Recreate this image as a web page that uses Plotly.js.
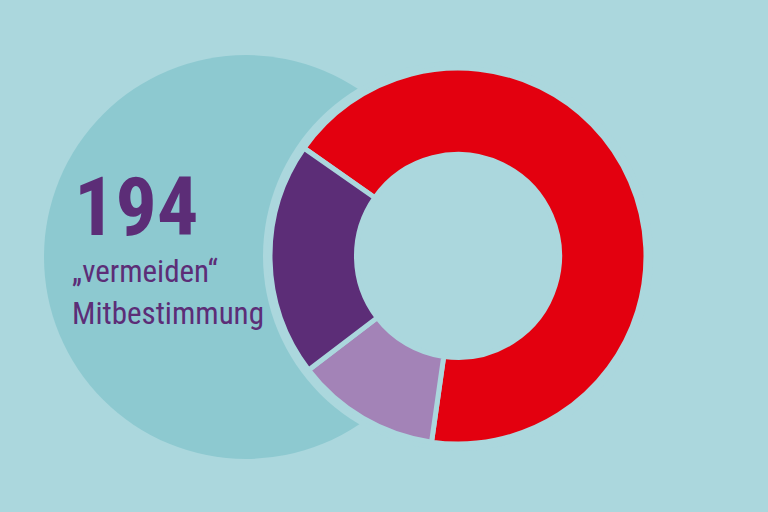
<!DOCTYPE html>
<html>
<head>
<meta charset="utf-8">
<script src="https://cdn.plot.ly/plotly-3.0.1.min.js"></script>
<style>html,body{margin:0;padding:0;background:#abd7dd;}#chart{width:768px;height:512px;}</style>
</head>
<body>
<div id="chart"></div>
<script>
const categories = ["Rot", "Hellviolett", "Violett"];
const values = [131, 24, 39];
const totalLabel = "194";
const captionLines = ["„vermeiden“", "Mitbestimmung"];

const BG = "#abd7dd";
const data = [{
  type: "pie",
  labels: categories,
  values: values,
  hole: 0.54,
  sort: false,
  direction: "clockwise",
  rotation: -55,
  textinfo: "none",
  hoverinfo: "none",
  marker: {colors: ["#e3000f", "#a383b7", "#5c2d77"], line: {color: BG, width: 5}},
  domain: {x: [270/768, 646/768], y: [68/512, 444/512]},
  showlegend: false
}];

const FONT = "Roboto Condensed, DejaVu Sans Condensed, sans-serif";
const layout = {
  width: 768, height: 512,
  margin: {l: 0, r: 0, t: 0, b: 0},
  paper_bgcolor: BG, plot_bgcolor: BG,
  showlegend: false,
  xaxis: {visible: false, range: [0, 768], fixedrange: true},
  yaxis: {visible: false, range: [0, 512], fixedrange: true},
  shapes: [
    {type: "circle", xref: "paper", yref: "paper", layer: "below",
     x0: 44/768, x1: 448/768, y0: (512-459)/512, y1: (512-55)/512,
     fillcolor: "#8dc9d0", line: {width: 0}},
    {type: "circle", xref: "paper", yref: "paper", layer: "below",
     x0: (458-195)/768, x1: (458+195)/768, y0: (256-195)/512, y1: (256+195)/512,
     fillcolor: BG, line: {width: 0}}
  ],
  annotations: [
    {text: "<b>" + totalLabel + "</b>", xref: "paper", yref: "paper", x: 72/768, y: (512-207)/512,
     xanchor: "left", yanchor: "middle", showarrow: false,
     font: {family: FONT, size: 82, color: "#5c2d77"}},
    {text: captionLines[0], xref: "paper", yref: "paper", x: 70/768, y: (512-271)/512,
     xanchor: "left", yanchor: "middle", showarrow: false,
     font: {family: FONT, size: 31, color: "#5c2d77"}},
    {text: captionLines[1], xref: "paper", yref: "paper", x: 70/768, y: (512-313)/512,
     xanchor: "left", yanchor: "middle", showarrow: false,
     font: {family: FONT, size: 31, color: "#5c2d77"}}
  ]
};

Plotly.newPlot("chart", data, layout, {displayModeBar: false, staticPlot: true});
</script>
</body>
</html>
